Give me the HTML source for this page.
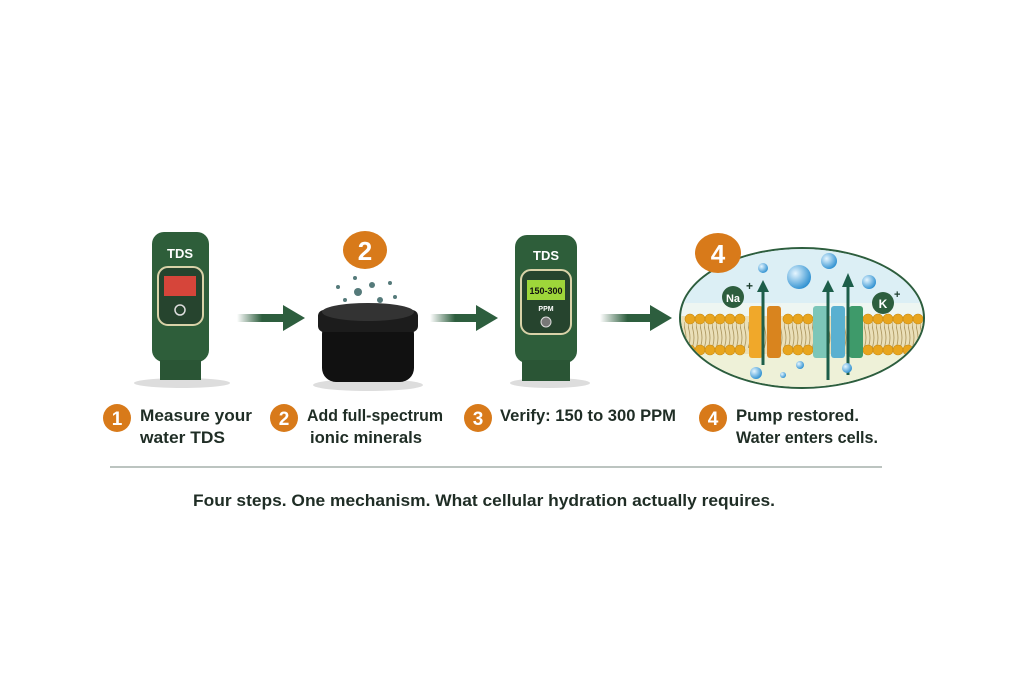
<!DOCTYPE html>
<html><head><meta charset="utf-8"><style>
html,body{margin:0;padding:0;background:#fff;}
svg{display:block}
text{font-family:"Liberation Sans",sans-serif;}
</style></head><body>
<svg width="1024" height="683" viewBox="0 0 1024 683" xmlns="http://www.w3.org/2000/svg">
<defs>
<linearGradient id="ar" x1="0" x2="1"><stop offset="0" stop-color="#2d5e3e" stop-opacity="0"/><stop offset="0.5" stop-color="#2d5e3e"/></linearGradient>
<radialGradient id="bub" cx="0.35" cy="0.35" r="0.7"><stop offset="0" stop-color="#e6f6ff"/><stop offset="1" stop-color="#2c8fd0"/></radialGradient>
<clipPath id="ec"><ellipse cx="802" cy="318" rx="121" ry="69"/></clipPath>
<pattern id="tails" width="4" height="30" patternUnits="userSpaceOnUse"><path d="M1 0 Q3 8 1 15 Q-1 22 1 30" stroke="#a8925a" stroke-width="0.8" fill="none"/></pattern>
</defs>
<!-- meter 1 -->
<ellipse cx="182" cy="383" rx="48" ry="5" fill="#ddd"/>
<rect x="152" y="232" width="57" height="130" rx="12" fill="#2e5e3a"/>
<rect x="160" y="360" width="41" height="20" fill="#2a5535"/>
<text x="180" y="258" font-size="13" font-weight="bold" fill="#fff" text-anchor="middle">TDS</text>
<rect x="158" y="267" width="45" height="58" rx="10" fill="#26442e" stroke="#d9d2a8" stroke-width="2"/>
<rect x="164" y="276" width="32" height="20" fill="#d6453a"/>
<circle cx="180" cy="310" r="5" fill="none" stroke="#ddd" stroke-width="1.5"/>
<!-- arrow 1 -->
<rect x="237" y="314" width="50" height="8" fill="url(#ar)"/><polygon points="283,305 305,318 283,331" fill="#2d5e3e"/>
<!-- jar -->
<ellipse cx="368" cy="385" rx="55" ry="6" fill="#ddd"/>
<rect x="322" y="320" width="92" height="62" rx="14" fill="#111"/>
<rect x="318" y="310" width="100" height="22" rx="6" fill="#1c1c1c"/>
<ellipse cx="368" cy="312" rx="46" ry="9" fill="#333"/>
<ellipse cx="365" cy="250" rx="22" ry="19" fill="#d87a1a"/>
<text x="365" y="260" font-size="26" font-weight="bold" fill="#fff" text-anchor="middle">2</text>
<g fill="#557a7a"><circle cx="358" cy="292" r="4"/><circle cx="372" cy="285" r="3"/><circle cx="380" cy="300" r="3"/><circle cx="345" cy="300" r="2"/><circle cx="390" cy="283" r="2"/><circle cx="355" cy="278" r="2"/><circle cx="395" cy="297" r="2"/><circle cx="338" cy="287" r="2"/></g>
<!-- meter 2 -->
<ellipse cx="550" cy="383" rx="40" ry="5" fill="#ddd"/>
<rect x="515" y="235" width="62" height="128" rx="12" fill="#2e5e3a"/>
<rect x="522" y="360" width="48" height="21" fill="#2a5535"/>
<text x="546" y="260" font-size="13" font-weight="bold" fill="#fff" text-anchor="middle">TDS</text>
<rect x="521" y="270" width="50" height="64" rx="10" fill="#26442e" stroke="#d9d2a8" stroke-width="2"/>
<rect x="527" y="280" width="38" height="20" fill="#9ed63a"/>
<text x="546" y="294" font-size="9" font-weight="bold" fill="#111" text-anchor="middle">150-300</text>
<text x="546" y="311" font-size="7" font-weight="bold" fill="#fff" text-anchor="middle">PPM</text>
<circle cx="546" cy="322" r="5" fill="#777" stroke="#ddd"/>
<!-- arrows 2,3 -->
<rect x="430" y="314" width="50" height="8" fill="url(#ar)"/><polygon points="476,305 498,318 476,331" fill="#2d5e3e"/>
<rect x="600" y="314" width="55" height="8" fill="url(#ar)"/><polygon points="650,305 672,318 650,331" fill="#2d5e3e"/>
<!-- cell -->
<ellipse cx="802" cy="318" rx="122" ry="70" fill="#eef6f2" stroke="#2d5e3e" stroke-width="2"/>
<g clip-path="url(#ec)">
<rect x="680" y="248" width="250" height="55" fill="#dceff5"/>
<rect x="680" y="350" width="250" height="40" fill="#eef1d8"/>
<rect x="680" y="316" width="250" height="38" fill="#eadfb8"/>
<rect x="680" y="322" width="250" height="26" fill="url(#tails)"/>
<g fill="#e8a51e" stroke="#c98a10" stroke-width="0.6">
<circle cx="690" cy="319" r="5"/><circle cx="700" cy="319" r="5"/><circle cx="710" cy="319" r="5"/><circle cx="720" cy="319" r="5"/><circle cx="730" cy="319" r="5"/><circle cx="740" cy="319" r="5"/><circle cx="788" cy="319" r="5"/><circle cx="798" cy="319" r="5"/><circle cx="808" cy="319" r="5"/><circle cx="868" cy="319" r="5"/><circle cx="878" cy="319" r="5"/><circle cx="888" cy="319" r="5"/><circle cx="898" cy="319" r="5"/><circle cx="908" cy="319" r="5"/><circle cx="918" cy="319" r="5"/>
<circle cx="690" cy="350" r="5"/><circle cx="700" cy="350" r="5"/><circle cx="710" cy="350" r="5"/><circle cx="720" cy="350" r="5"/><circle cx="730" cy="350" r="5"/><circle cx="740" cy="350" r="5"/><circle cx="788" cy="350" r="5"/><circle cx="798" cy="350" r="5"/><circle cx="808" cy="350" r="5"/><circle cx="868" cy="350" r="5"/><circle cx="878" cy="350" r="5"/><circle cx="888" cy="350" r="5"/><circle cx="898" cy="350" r="5"/><circle cx="908" cy="350" r="5"/><circle cx="918" cy="350" r="5"/>
</g>
</g>
<rect x="749" y="306" width="14" height="52" rx="3" fill="#f0a82a"/>
<rect x="767" y="306" width="14" height="52" rx="3" fill="#d9841e"/>
<rect x="813" y="306" width="16" height="52" rx="3" fill="#7cc6b8"/>
<rect x="831" y="306" width="14" height="52" rx="3" fill="#5ab0d0"/>
<rect x="849" y="306" width="14" height="52" rx="3" fill="#3e9a6a"/>
<g stroke="#1d5e4a" stroke-width="3"><line x1="763" y1="365" x2="763" y2="290"/><line x1="828" y1="380" x2="828" y2="290"/><line x1="848" y1="375" x2="848" y2="285"/></g>
<g fill="#1d5e4a"><polygon points="757,292 763,280 769,292"/><polygon points="822,292 828,280 834,292"/><polygon points="842,287 848,273 854,287"/></g>
<circle cx="733" cy="297" r="11" fill="#2d5e3e"/><text x="733" y="302" font-size="11" font-weight="bold" fill="#fff" text-anchor="middle">Na</text><text x="746" y="290" font-size="12" font-weight="bold" fill="#1d3e2e">+</text>
<circle cx="883" cy="303" r="11" fill="#2d5e3e"/><text x="883" y="308" font-size="12" font-weight="bold" fill="#fff" text-anchor="middle">K</text><text x="894" y="298" font-size="11" font-weight="bold" fill="#1d3e2e">+</text>
<g fill="url(#bub)"><circle cx="799" cy="277" r="12"/><circle cx="829" cy="261" r="8"/><circle cx="763" cy="268" r="5"/><circle cx="869" cy="282" r="7"/><circle cx="756" cy="373" r="6"/><circle cx="847" cy="368" r="5"/><circle cx="800" cy="365" r="4"/><circle cx="783" cy="375" r="3"/></g>
<ellipse cx="718" cy="253" rx="23" ry="20" fill="#d87a1a"/>
<text x="718" y="263" font-size="26" font-weight="bold" fill="#fff" text-anchor="middle">4</text>
<!-- labels -->
<g font-size="17" font-weight="bold" fill="#1f2d25">
<circle cx="117" cy="418" r="14" fill="#d87a1a"/><text x="117" y="425" fill="#fff" font-size="19" text-anchor="middle">1</text>
<text x="140" y="421" textLength="112" lengthAdjust="spacingAndGlyphs">Measure your</text>
<text x="140" y="443" textLength="85" lengthAdjust="spacingAndGlyphs">water TDS</text>
<circle cx="284" cy="418" r="14" fill="#d87a1a"/><text x="284" y="425" fill="#fff" font-size="19" text-anchor="middle">2</text>
<text x="307" y="421" textLength="136" lengthAdjust="spacingAndGlyphs">Add full-spectrum</text>
<text x="310" y="443" textLength="112" lengthAdjust="spacingAndGlyphs">ionic minerals</text>
<circle cx="478" cy="418" r="14" fill="#d87a1a"/><text x="478" y="425" fill="#fff" font-size="19" text-anchor="middle">3</text>
<text x="500" y="421" textLength="176" lengthAdjust="spacingAndGlyphs">Verify: 150 to 300 PPM</text>
<circle cx="713" cy="418" r="14" fill="#d87a1a"/><text x="713" y="425" fill="#fff" font-size="19" text-anchor="middle">4</text>
<text x="736" y="421" textLength="123" lengthAdjust="spacingAndGlyphs">Pump restored.</text>
<text x="736" y="443" textLength="142" lengthAdjust="spacingAndGlyphs">Water enters cells.</text>
</g>
<line x1="110" y1="467" x2="882" y2="467" stroke="#7a8a80" stroke-width="1"/>
<text x="193" y="506" font-size="17" font-weight="bold" fill="#1f2d25" textLength="582" lengthAdjust="spacingAndGlyphs">Four steps. One mechanism. What cellular hydration actually requires.</text>
</svg>
</body></html>
